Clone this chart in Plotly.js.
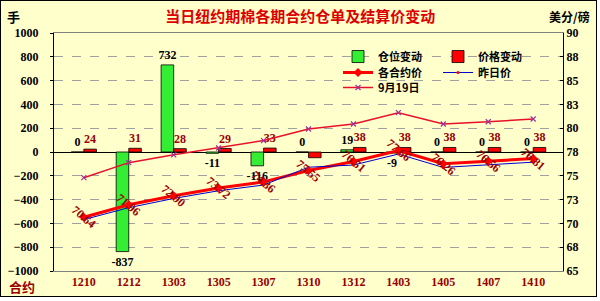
<!DOCTYPE html>
<html>
<head>
<meta charset="utf-8">
<script src="https://cdn.plot.ly/plotly-3.0.1.min.js"></script>
<style>
html,body{margin:0;padding:0;background:#ffffff;}
#chart{position:absolute;left:0;top:0;width:595px;height:295px;border:1px solid #000;}
</style>
</head>
<body>
<div id="chart"></div>
<script>
// ---- data ----
const categories = ['1210','1212','1303','1305','1307','1310','1312','1403','1405','1407','1410'];
const positionChange = [0, -837, 732, -11, -116, 0, 19, -9, 0, 0, 0];
const priceChange = [24, 31, 28, 29, 33, -48, 38, 38, 38, 38, 38];
const contractPrice = [70.64, 71.96, 72.90, 73.72, 74.36, 75.55, 76.51, 77.66, 76.26, 76.56, 76.81];
const prevPrice = [70.40, 71.65, 72.62, 73.43, 74.03, 75.90, 76.13, 77.28, 75.88, 76.18, 76.43];
const sep19Price = [74.80, 76.38, 77.20, 77.92, 78.70, 79.92, 80.44, 81.63, 80.44, 80.68, 80.97];
const rightTickVals = [65, 67.5, 70, 72.5, 75, 77.5, 80, 82.5, 85, 87.5, 90];
const rightTickText = ['65', '68', '70', '73', '75', '78', '80', '83', '85', '88', '90'];

const serif = 'Liberation Serif, Times New Roman, serif';
const cjk = 'Noto Sans CJK SC, sans-serif';
const darkRed = '#990000';

const traces = [
  {
    type: 'bar', name: '仓位变动', x: categories, y: positionChange,
    marker: {color: '#33EE33', line: {color: '#000000', width: 0.8}},
    text: positionChange.map(String), textposition: 'outside', cliponaxis: false, constraintext: 'none',
    textfont: {family: serif, size: 12, color: '#000000', weight: 'bold'},
    legend: 'legend', hoverinfo: 'skip'
  },
  {
    type: 'bar', name: '价格变动', x: categories, y: priceChange,
    marker: {color: '#FF0000', line: {color: '#000000', width: 0.8}},
    text: priceChange.map(v => v < 0 ? '' : String(v)), textposition: 'outside', cliponaxis: false, constraintext: 'none',
    textfont: {family: serif, size: 12, color: darkRed, weight: 'bold'},
    legend: 'legend', hoverinfo: 'skip'
  },
  {
    type: 'scatter', mode: 'lines+markers', name: '各合约价', x: categories, y: contractPrice,
    yaxis: 'y2', line: {color: '#FF0000', width: 3},
    marker: {symbol: 'diamond', size: 7, color: '#FF0000'},
    legend: 'legend2', hoverinfo: 'skip'
  },
  {
    type: 'scatter', mode: 'lines+markers', name: '昨日价', x: categories, y: prevPrice,
    yaxis: 'y2', line: {color: '#0000CC', width: 1},
    marker: {symbol: 'circle', size: 3, color: '#FF0000'},
    legend: 'legend2', hoverinfo: 'skip'
  },
  {
    type: 'scatter', mode: 'lines+markers', name: '9月19日', x: categories, y: sep19Price,
    yaxis: 'y2', line: {color: '#E8102A', width: 1.5},
    marker: {symbol: 'x-thin-open', size: 5, color: '#993399', line: {color: '#993399', width: 1.2}},
    legend: 'legend3', hoverinfo: 'skip'
  }
];

// category axes take annotation positions as category index
const labelAnnotations = categories.map((c, i) => ({
  x: i, y: contractPrice[i], xref: 'x', yref: 'y2',
  text: contractPrice[i].toFixed(2), textangle: 40, showarrow: false,
  xanchor: 'center', yanchor: 'middle',
  font: {family: serif, size: 12, color: darkRed, weight: 'bold'}
}));

const legendBase = {
  orientation: 'h', xanchor: 'left', yanchor: 'top', x: 0.558,
  entrywidth: 55, entrywidthmode: 'pixels', itemwidth: 30,
  bgcolor: 'rgba(0,0,0,0)', borderwidth: 0, traceorder: 'normal',
  font: {family: cjk, size: 11, color: '#000000', weight: 'bold'}
};

const layout = {
  width: 595, height: 295,
  margin: {l: 53, r: 33, t: 32, b: 25, pad: 0},
  paper_bgcolor: '#FFFFCC', plot_bgcolor: '#FFFFCC',
  showlegend: true,
  barmode: 'group', bargap: 0.44, bargroupgap: 0,
  title: {
    text: '当日纽约期棉各期合约仓单及结算价变动',
    x: 0.503, xref: 'container', xanchor: 'center',
    y: 0.946, yref: 'container', yanchor: 'middle',
    font: {family: cjk, size: 15, color: '#DD0000', weight: 'bold'}
  },
  xaxis: {
    type: 'category', showline: true, mirror: true, linecolor: '#808080', linewidth: 1,
    ticks: '', showgrid: false,
    tickfont: {family: serif, size: 12, color: darkRed, weight: 'bold'}
  },
  yaxis: {
    range: [-1000, 1000], dtick: 200, tick0: 0,
    showline: true, linecolor: '#000000', linewidth: 1,
    ticks: 'outside', ticklen: 3, tickcolor: '#000000', ticklabelstandoff: 9,
    showgrid: true, gridcolor: '#A0A0A0', griddash: 'dash', gridwidth: 1,
    zeroline: true, zerolinecolor: '#000000', zerolinewidth: 1,
    tickfont: {family: serif, size: 12, color: '#000000', weight: 'bold'}
  },
  yaxis2: {
    overlaying: 'y', side: 'right', range: [65, 90],
    tickmode: 'array', tickvals: rightTickVals, ticktext: rightTickText,
    showline: true, linecolor: '#000000', linewidth: 1,
    ticks: 'inside', ticklen: 3, tickcolor: '#000000',
    showgrid: false, zeroline: false,
    tickfont: {family: serif, size: 12, color: '#000000', weight: 'bold'}
  },
  legend: Object.assign({}, legendBase, {y: 0.962}),
  legend2: Object.assign({}, legendBase, {y: 0.895}),
  legend3: Object.assign({}, legendBase, {y: 0.832}),
  annotations: labelAnnotations.concat([
    {text: '手', xref: 'paper', yref: 'paper', x: -0.08, y: 1.071, showarrow: false,
     xanchor: 'center', yanchor: 'middle',
     font: {family: cjk, size: 13, color: '#000000', weight: 'bold'}},
    {text: '美分/磅', xref: 'paper', yref: 'paper', x: 1.012, y: 1.071, showarrow: false,
     xanchor: 'center', yanchor: 'middle',
     font: {family: cjk, size: 12, color: '#000000', weight: 'bold'}},
    {text: '合约', xref: 'paper', yref: 'paper', x: -0.063, y: -0.066, showarrow: false,
     xanchor: 'center', yanchor: 'middle',
     font: {family: cjk, size: 13, color: darkRed, weight: 'bold'}}
  ])
};

Plotly.newPlot('chart', traces, layout, {displayModeBar: false, staticPlot: true});
</script>
</body>
</html>
